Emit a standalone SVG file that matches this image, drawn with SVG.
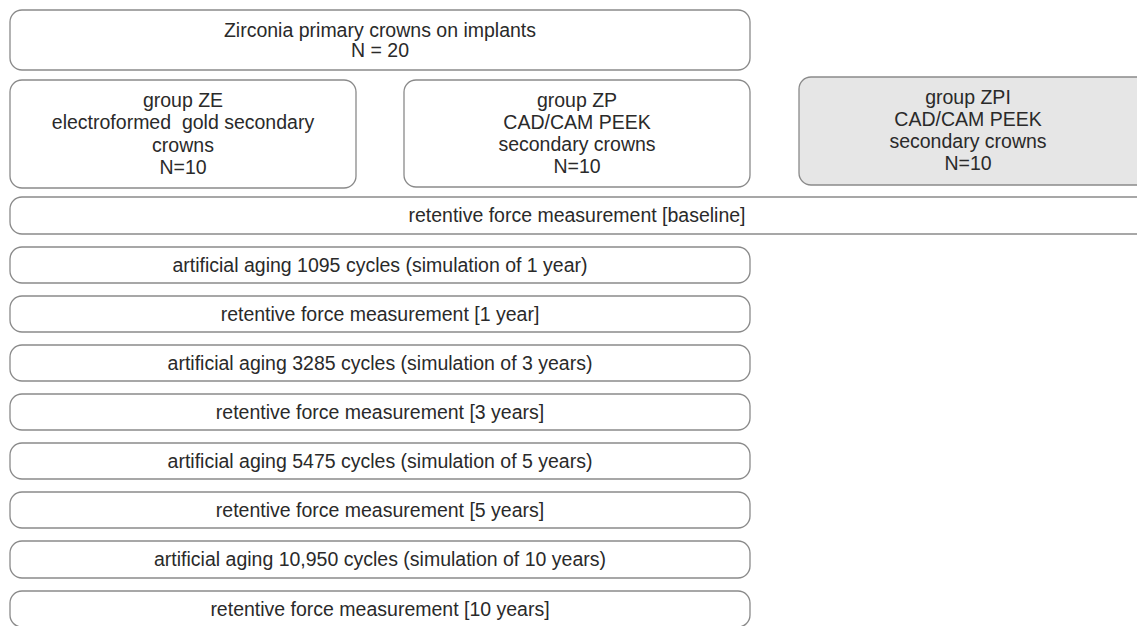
<svg xmlns="http://www.w3.org/2000/svg" width="1137" height="626" viewBox="0 0 1137 626">
<style>
.b{fill:#fff;stroke:#8a8a8a;stroke-width:1.3}
.g{fill:#e6e6e6;stroke:#8a8a8a;stroke-width:1.3}
text{font-family:"Liberation Sans",Arial,sans-serif;font-size:19.5px;fill:#2a2a2a;text-anchor:middle}
</style>
<rect width="1137" height="626" fill="#fff"/>
<g id="top"><rect class="b" x="10" y="10" width="740" height="60" rx="12"/><text x="380" y="37">Zirconia primary crowns on implants</text><text x="380" y="57">N = 20</text></g>
<g id="ze"><rect class="b" x="10" y="80" width="346" height="108" rx="12"/><text x="183" y="107">group ZE</text><text x="183" y="129" xml:space="preserve">electroformed  gold secondary</text><text x="183" y="152">crowns</text><text x="183" y="174">N=10</text></g>
<g id="zp"><rect class="b" x="404" y="80" width="346" height="107" rx="12"/><text x="577" y="107">group ZP</text><text x="577" y="129">CAD/CAM PEEK</text><text x="577" y="151">secondary crowns</text><text x="577" y="173">N=10</text></g>
<g id="zpi"><rect class="g" x="799" y="77" width="350" height="108" rx="12"/><text x="968" y="104">group ZPI</text><text x="968" y="126">CAD/CAM PEEK</text><text x="968" y="148">secondary crowns</text><text x="968" y="170">N=10</text></g>
<g id="r0"><rect class="b" x="10" y="197" width="1140" height="37" rx="12"/><text x="577" y="222">retentive force measurement [baseline]</text></g>
<g id="r1"><rect class="b" x="10" y="247" width="740" height="36" rx="12"/><text x="380" y="272">artificial aging 1095 cycles (simulation of 1 year)</text></g>
<g id="r2"><rect class="b" x="10" y="296" width="740" height="36" rx="12"/><text x="380" y="321">retentive force measurement [1 year]</text></g>
<g id="r3"><rect class="b" x="10" y="345" width="740" height="36" rx="12"/><text x="380" y="370">artificial aging 3285 cycles (simulation of 3 years)</text></g>
<g id="r4"><rect class="b" x="10" y="394" width="740" height="36" rx="12"/><text x="380" y="419">retentive force measurement [3 years]</text></g>
<g id="r5"><rect class="b" x="10" y="443" width="740" height="36" rx="12"/><text x="380" y="468">artificial aging 5475 cycles (simulation of 5 years)</text></g>
<g id="r6"><rect class="b" x="10" y="492" width="740" height="36" rx="12"/><text x="380" y="517">retentive force measurement [5 years]</text></g>
<g id="r7"><rect class="b" x="10" y="541" width="740" height="37" rx="12"/><text x="380" y="566">artificial aging 10,950 cycles (simulation of 10 years)</text></g>
<g id="r8"><rect class="b" x="10" y="591" width="740" height="36" rx="12"/><text x="380" y="616">retentive force measurement [10 years]</text></g>
<g id="connectors"></g>
</svg>
